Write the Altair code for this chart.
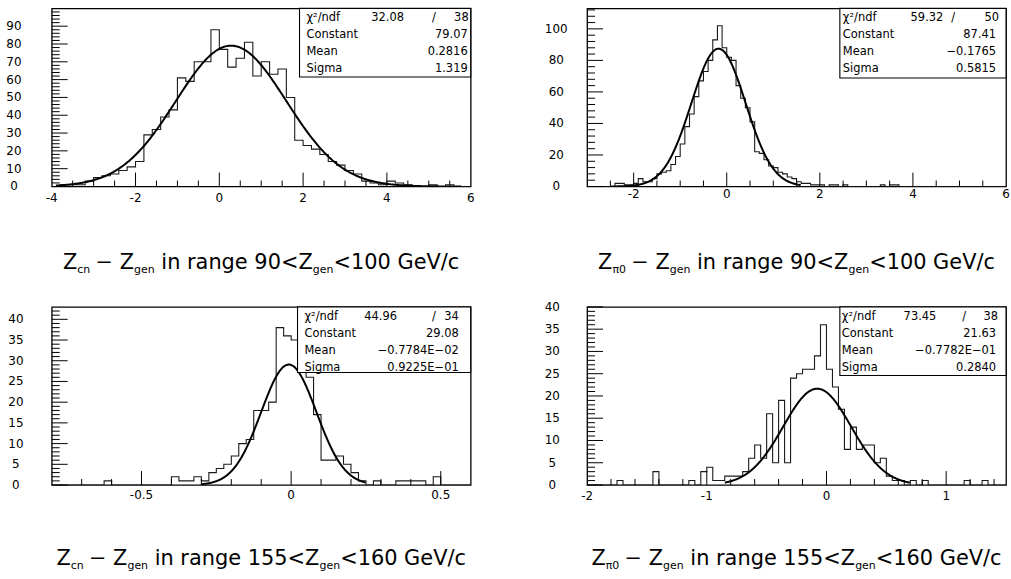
import altair as alt
import pandas as pd

# ---------------- histogram contents ----------------
P1_START, P1_BIN = -4.0, 0.2
P1_COUNTS = [0, 1, 1, 1, 3, 5, 6, 7, 9, 11,
             14, 29, 32, 39, 43, 61, 59, 70, 70, 88,
             77, 67, 72, 81, 62, 70, 63, 66, 50, 26,
             23, 21, 18, 14, 12, 9, 7, 3, 2, 1,
             3, 2, 1, 0, 0, 1, 0, 1, 0, 0]

P2_START, P2_BIN = -3.0, 0.1
P2_COUNTS = [0, 0, 0, 0, 0, 0, 2, 2, 1, 1,
             2, 5, 3, 3, 5, 8, 9, 10, 14, 19,
             27, 38, 46, 57, 67, 73, 80, 93, 102, 88,
             82, 80, 64, 56, 50, 41, 22, 21, 17, 13,
             12, 9, 8, 6, 5, 3, 2, 2, 1, 1,
             1, 0, 1, 1, 0, 1, 0, 0, 0, 0,
             0, 0, 0, 1, 0, 1, 1, 0, 0, 0,
             0, 0, 0, 0, 0, 0, 0, 0, 0, 0,
             0, 0, 0, 0, 0, 0, 0, 0, 0, 0]

P3_START, P3_BIN = -0.8, 0.025
P3_COUNTS = [0, 0, 0, 0, 0, 0, 0, 1, 0, 0,
             0, 0, 0, 0, 0, 0, 2, 1, 1, 2,
             1, 3, 4, 5, 7, 10, 11, 18, 18, 20,
             38, 36, 35, 32, 26, 17, 6, 6, 7, 5,
             3, 1, 0, 1, 0, 0, 1, 1, 1, 1,
             0, 2, 0, 0, 0, 0]

P4_START, P4_BIN = -2.0, 0.05
P4_COUNTS = [0, 0, 0, 0, 0, 1, 0, 0, 0, 0,
             0, 3, 0, 0, 0, 0, 0, 1, 0, 3,
             4, 1, 1, 2, 2, 2, 3, 6, 9, 6,
             16, 5, 19, 5, 24, 25, 26, 26, 29, 36,
             26, 22, 17, 8, 13, 8, 9, 9, 5, 6,
             2, 1, 1, 0, 1, 0, 1, 0, 0, 0,
             0, 0, 0, 1, 0, 0, 1, 0, 0, 0]

# ---------------- fit results (stat boxes) ----------------
STAT_LABELS = ["χ²/ndf", "Constant", "Mean", "Sigma"]
P1_STATS = ["32.08", "38", "79.07", "0.2816", "1.319"]
P2_STATS = ["59.32", "50", "87.41", "−0.1765", "0.5815"]
P3_STATS = ["44.96", "34", "29.08", "−0.7784E−02", "0.9225E−01"]
P4_STATS = ["73.45", "38", "21.63", "−0.7782E−01", "0.2840"]
P1_FIT = (79.07, 0.2816, 1.319)
P2_FIT = (87.41, -0.1765, 0.5815)
P3_FIT = (29.08, -0.007784, 0.09225)
P4_FIT = (21.63, -0.07782, 0.2840)
P1_FIT_RANGE = (-3.9, 5.8)
P2_FIT_RANGE = (-2.5, 1.6)
P3_FIT_RANGE = (-0.3, 0.25)
P4_FIT_RANGE = (-0.85, 0.7)

# ---------------- axes ----------------
P1_XDOM, P1_YDOM = [-4, 6], [0, 100]
P2_XDOM, P2_YDOM = [-3, 6], [0, 113]
P3_XDOM, P3_YDOM = [-0.8, 0.6], [0, 43]
P4_XDOM, P4_YDOM = [-2, 1.5], [0, 40]
P1_XLABELS = [-4, -2, 0, 2, 4, 6]
P1_YLABELS = [0, 10, 20, 30, 40, 50, 60, 70, 80, 90]
P2_XLABELS = [-2, 0, 2, 4, 6]
P2_YLABELS = [0, 20, 40, 60, 80, 100]
P3_XLABELS = [-0.5, 0, 0.5]
P3_YLABELS = [0, 5, 10, 15, 20, 25, 30, 35, 40]
P4_XLABELS = [-2, -1, 0, 1]
P4_YLABELS = [0, 5, 10, 15, 20, 25, 30, 35, 40]

# ---------------- captions ----------------
CAP_SUBS = ["cn", "π0", "cn", "π0"]
CAP_RANGES = [("90", "100"), ("90", "100"), ("155", "160"), ("155", "160")]

W, H = 421, 179
FONT = "DejaVu Sans"

DV = {' ': 0.318, 'Z': 0.685, 'c': 0.550, 'n': 0.634, 'g': 0.635, 'e': 0.615,
      'i': 0.278, 'r': 0.411, 'a': 0.613, '<': 0.838, 'G': 0.775, 'V': 0.684,
      '/': 0.337, '−': 0.838, 'π': 0.603}


def text_w(s, size):
    return sum(DV.get(ch, 0.636) for ch in s) * size


def caption_frame(sub, lo, hi, base):
    main, small = 21, 11
    sp = 0.318 * main
    # (text, is_subscript, gap after)
    segs = [("Z", False, 0), (sub, True, sp * 0.8), ("−", False, sp), ("Z", False, 0),
            ("gen", True, sp), ("in range " + lo + "<Z", False, 0), ("gen", True, 0),
            ("<" + hi + " GeV/c", False, 0)]
    total = sum(text_w(t, small if s else main) + g for t, s, g in segs)
    x = W / 2 - total / 2
    rows = []
    for t, s, g in segs:
        size = small if s else main
        rows.append({"t": t, "px": x, "py": base + (4 if s else 0), "s": size})
        x += text_w(t, size) + g
    return pd.DataFrame(rows)


def hist_frame(start, bw, counts):
    xs, ys = [start], [0]
    for i, c in enumerate(counts):
        xs.append(start + i * bw)
        ys.append(c)
    xs.append(start + len(counts) * bw)
    ys.append(0)
    return pd.DataFrame({"x": xs, "y": ys, "o": list(range(len(xs)))})


def subdiv(lo, hi, step, majors):
    out = []
    n = int(round((hi - lo) / step))
    for i in range(n + 1):
        v = round(lo + i * step, 6)
        if all(abs(v - m) > 1e-9 for m in majors):
            out.append(v)
    return out


def fmt(v):
    return "%g" % v


def panel(start, bw, counts, fit, frange, xdom, ydom, xlab, ylab,
          xminor, yminor, stats, box, ylpad, xlpad, cap):
    xs = alt.Scale(domain=xdom, nice=False, zero=False)
    ys = alt.Scale(domain=ydom, nice=False, zero=False)
    hist = alt.Chart(hist_frame(start, bw, counts)).mark_line(
        interpolate="step-after", color="#1a1a1a", strokeWidth=1.1, clip=True
    ).encode(
        x=alt.X("x:Q", scale=xs, axis=None),
        y=alt.Y("y:Q", scale=ys, axis=None),
        order="o:Q",
    )
    C, M, S = fit
    curve = alt.Chart(alt.sequence(frange[0], frange[1], (frange[1] - frange[0]) / 400, as_="x")
                      ).transform_calculate(
        y=f"{C}*exp(-0.5*pow((datum.x-({M}))/{S},2))"
    ).mark_line(color="black", strokeWidth=2, clip=True).encode(
        x=alt.X("x:Q", scale=xs, axis=None), y=alt.Y("y:Q", scale=ys, axis=None))

    def yt(vals, ln):
        return alt.Chart(pd.DataFrame({"v": vals})).mark_rule(color="black", strokeWidth=1).encode(
            y=alt.Y("v:Q", scale=ys, axis=None), x=alt.value(0), x2=alt.value(ln))

    def xt(vals, ln):
        return alt.Chart(pd.DataFrame({"v": vals})).mark_rule(color="black", strokeWidth=1).encode(
            x=alt.X("v:Q", scale=xs, axis=None), y=alt.value(H), y2=alt.value(H - ln))

    ymin_vals = subdiv(ydom[0], ydom[1], yminor, ylab)
    ymin_vals = [v for v in ymin_vals if v < ydom[1]]
    xmin_vals = subdiv(xlab[0] - xminor * round((xlab[0] - xdom[0]) / xminor), xdom[1], xminor, xlab)
    xmin_vals = [v for v in xmin_vals if xdom[0] < v < xdom[1]]
    xmaj_vals = [v for v in xlab if xdom[0] < v < xdom[1]]

    ylabels = alt.Chart(pd.DataFrame({"v": ylab, "t": [fmt(v) for v in ylab]})).mark_text(
        align="center", baseline="middle", font=FONT, fontSize=12, color="black"
    ).encode(y=alt.Y("v:Q", scale=ys, axis=None), x=alt.value(-ylpad), text="t:N")
    xlabels = alt.Chart(pd.DataFrame({"v": xlab, "t": [fmt(v) for v in xlab]})).mark_text(
        align="center", baseline="top", font=FONT, fontSize=12, color="black"
    ).encode(x=alt.X("v:Q", scale=xs, axis=None), y=alt.value(H + xlpad), text="t:N")

    bx0, bh, lab_x, chi_r, sl_x, ndf_r, val_r = box
    rect = alt.Chart(pd.DataFrame({"a": [0]})).mark_rect(
        fill="white", stroke="black", strokeWidth=1.1
    ).encode(x=alt.value(bx0), x2=alt.value(W), y=alt.value(0), y2=alt.value(bh))
    rows_y = [10, 27, 44, 61]
    lab_df = pd.DataFrame({"t": STAT_LABELS, "px": [lab_x] * 4, "py": rows_y})
    val_df = pd.DataFrame({"t": [stats[0], stats[1], stats[2], stats[3], stats[4]],
                           "px": [chi_r, ndf_r, val_r, val_r, val_r],
                           "py": [rows_y[0], rows_y[0], rows_y[1], rows_y[2], rows_y[3]]})
    sl_df = pd.DataFrame({"t": ["/"], "px": [sl_x], "py": [rows_y[0]]})

    def txt(df, align, size=11.5):
        return alt.Chart(df).mark_text(align=align, baseline="middle", font=FONT,
                                       fontSize=size, color="black").encode(
            x=alt.X("px:Q", scale=None), y=alt.Y("py:Q", scale=None), text="t:N")

    capc = alt.Chart(cap).mark_text(align="left", baseline="alphabetic", font=FONT,
                                    color="black").encode(
        x=alt.X("px:Q", scale=None), y=alt.Y("py:Q", scale=None), text="t:N",
        size=alt.Size("s:Q", scale=None, legend=None))

    return alt.layer(
        hist, curve,
        yt(ylab, 16), yt(ymin_vals, 8), xt(xmaj_vals, 14), xt(xmin_vals, 6),
        ylabels, xlabels,
        rect, txt(lab_df, "left"), txt(val_df, "right"), txt(sl_df, "center"),
        capc,
    ).properties(width=W, height=H)


p1 = panel(P1_START, P1_BIN, P1_COUNTS, P1_FIT, P1_FIT_RANGE, P1_XDOM, P1_YDOM,
           P1_XLABELS, P1_YLABELS, 0.5, 2, P1_STATS,
           (249, 69, 256, 354, 384, 419, 418), 38, 7,
           caption_frame(CAP_SUBS[0], *CAP_RANGES[0], H + 83))
p2 = panel(P2_START, P2_BIN, P2_COUNTS, P2_FIT, P2_FIT_RANGE, P2_XDOM, P2_YDOM,
           P2_XLABELS, P2_YLABELS, 0.5, 4, P2_STATS,
           (254, 70, 257, 358, 368, 414, 411), 31, 3,
           caption_frame(CAP_SUBS[1], *CAP_RANGES[1], H + 83))
p3 = panel(P3_START, P3_BIN, P3_COUNTS, P3_FIT, P3_FIT_RANGE, P3_XDOM, P3_YDOM,
           P3_XLABELS, P3_YLABELS, 0.1, 1, P3_STATS,
           (247, 66, 254, 347, 384, 409, 409), 36, 5,
           caption_frame(CAP_SUBS[2], *CAP_RANGES[2], H + 80))
p4 = panel(P4_START, P4_BIN, P4_COUNTS, P4_FIT, P4_FIT_RANGE, P4_XDOM, P4_YDOM,
           P4_XLABELS, P4_YLABELS, 0.2, 1, P4_STATS,
           (254, 69, 256, 351, 379, 413, 411), 35, 6,
           caption_frame(CAP_SUBS[3], *CAP_RANGES[3], H + 80))

chart = alt.concat(
    p1, p2, p3, p4, columns=2,
    spacing=alt.RowColnumber(row=121, column=117), bounds="flush",
).properties(
    padding={"left": 5, "top": 5, "right": 0, "bottom": 0}, background="white"
).configure_view(stroke="black", strokeWidth=1.3)

chart.save("out.html", embed_options={"renderer": "svg", "actions": False})
